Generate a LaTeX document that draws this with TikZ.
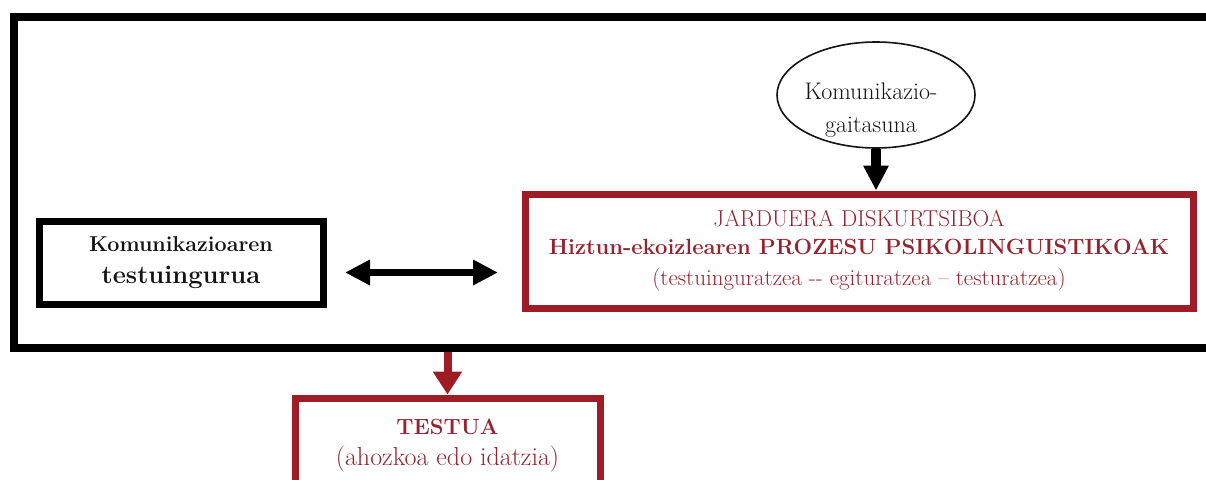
\documentclass[tikz,border=0pt]{standalone}
\usepackage{tikz}
\usetikzlibrary{arrows.meta, shapes.geometric, positioning}
\definecolor{boxred}{RGB}{158,28,38}
\definecolor{txtred}{RGB}{150,36,46}
\definecolor{ink}{RGB}{20,20,20}
\newcommand{\fsz}[2]{\fontsize{#1}{#2}\selectfont}

\begin{document}
\begin{tikzpicture}[x=1pt, y=-1pt,
  blackbox/.style={draw=black, line width=7pt, inner sep=0pt, align=center, text=ink},
  redbox/.style={draw=boxred, line width=7pt, inner sep=0pt, align=center, text=txtred},
  fatarrow/.style={line width=10pt, -{Triangle[length=25pt, width=24pt]}},
  dblarrow/.style={line width=7pt, {Triangle[length=25pt, width=24pt]}-{Triangle[length=25pt, width=24pt]}},
  redarrow/.style={boxred, line width=8pt, -{Triangle[length=23pt, width=28pt]}}]

  \useasboundingbox (0,0) rectangle (1206,479);
  \clip (0,0) rectangle (1206,479);

  % ---------- outer frame (runs past the right edge) ----------
  \node[draw=black, line width=8pt, inner sep=0pt,
        minimum width=1287pt, minimum height=330.5pt] (frame) at (657,182.25) {};

  % ---------- context box ----------
  \node[blackbox, minimum width=284pt, minimum height=83pt, font=\fsz{21.5}{32}] (ctx) at (181,262.5)
    {{\bfseries Komunikazioaren}\\{\fsz{25.5}{32}\bfseries testuingurua}};

  % ---------- competence ellipse ----------
  \node[ellipse, draw=ink, line width=1.6pt, inner sep=0pt,
        minimum width=198pt, minimum height=106pt] (gait) at (876,95) {};
  \node[font=\fsz{24}{33}, align=center, text=ink, inner sep=0pt] (gaittxt)
    at ([xshift=-5pt, yshift=-15pt]gait.center) {Komunikazio-\\gaitasuna};

  % ---------- discourse activity box ----------
  \node[redbox, minimum width=668pt, minimum height=114pt, font=\fsz{23}{28}] (jard) at (859,251)
    {JARDUERA DISKURTSIBOA\\
     {\fsz{22}{28}\bfseries Hiztun-ekoizlearen PROZESU PSIKOLINGUISTIKOAK}\\[3pt]
     (testuinguratzea -{}- egituratzea \textendash{} testuratzea)};

  % ---------- text box (runs past the bottom edge) ----------
  \node[redbox, minimum width=305pt, minimum height=96pt, font=\fsz{26}{31}] (testua) at (447.5,446)
    {{\fsz{22}{31}\bfseries TESTUA}\\(ahozkoa edo idatzia)};

  % ---------- arrows ----------
  \draw[fatarrow] (gait.south) -- (gait.south |- jard.north);
  \draw[dblarrow, shorten <=18.5pt, shorten >=23.5pt]
    ([yshift=-10pt]ctx.east) -- ([yshift=-10pt]ctx.east -| jard.west);
  \draw[redarrow] (frame.south -| testua.north) -- (testua.north);

\end{tikzpicture}
\end{document}
